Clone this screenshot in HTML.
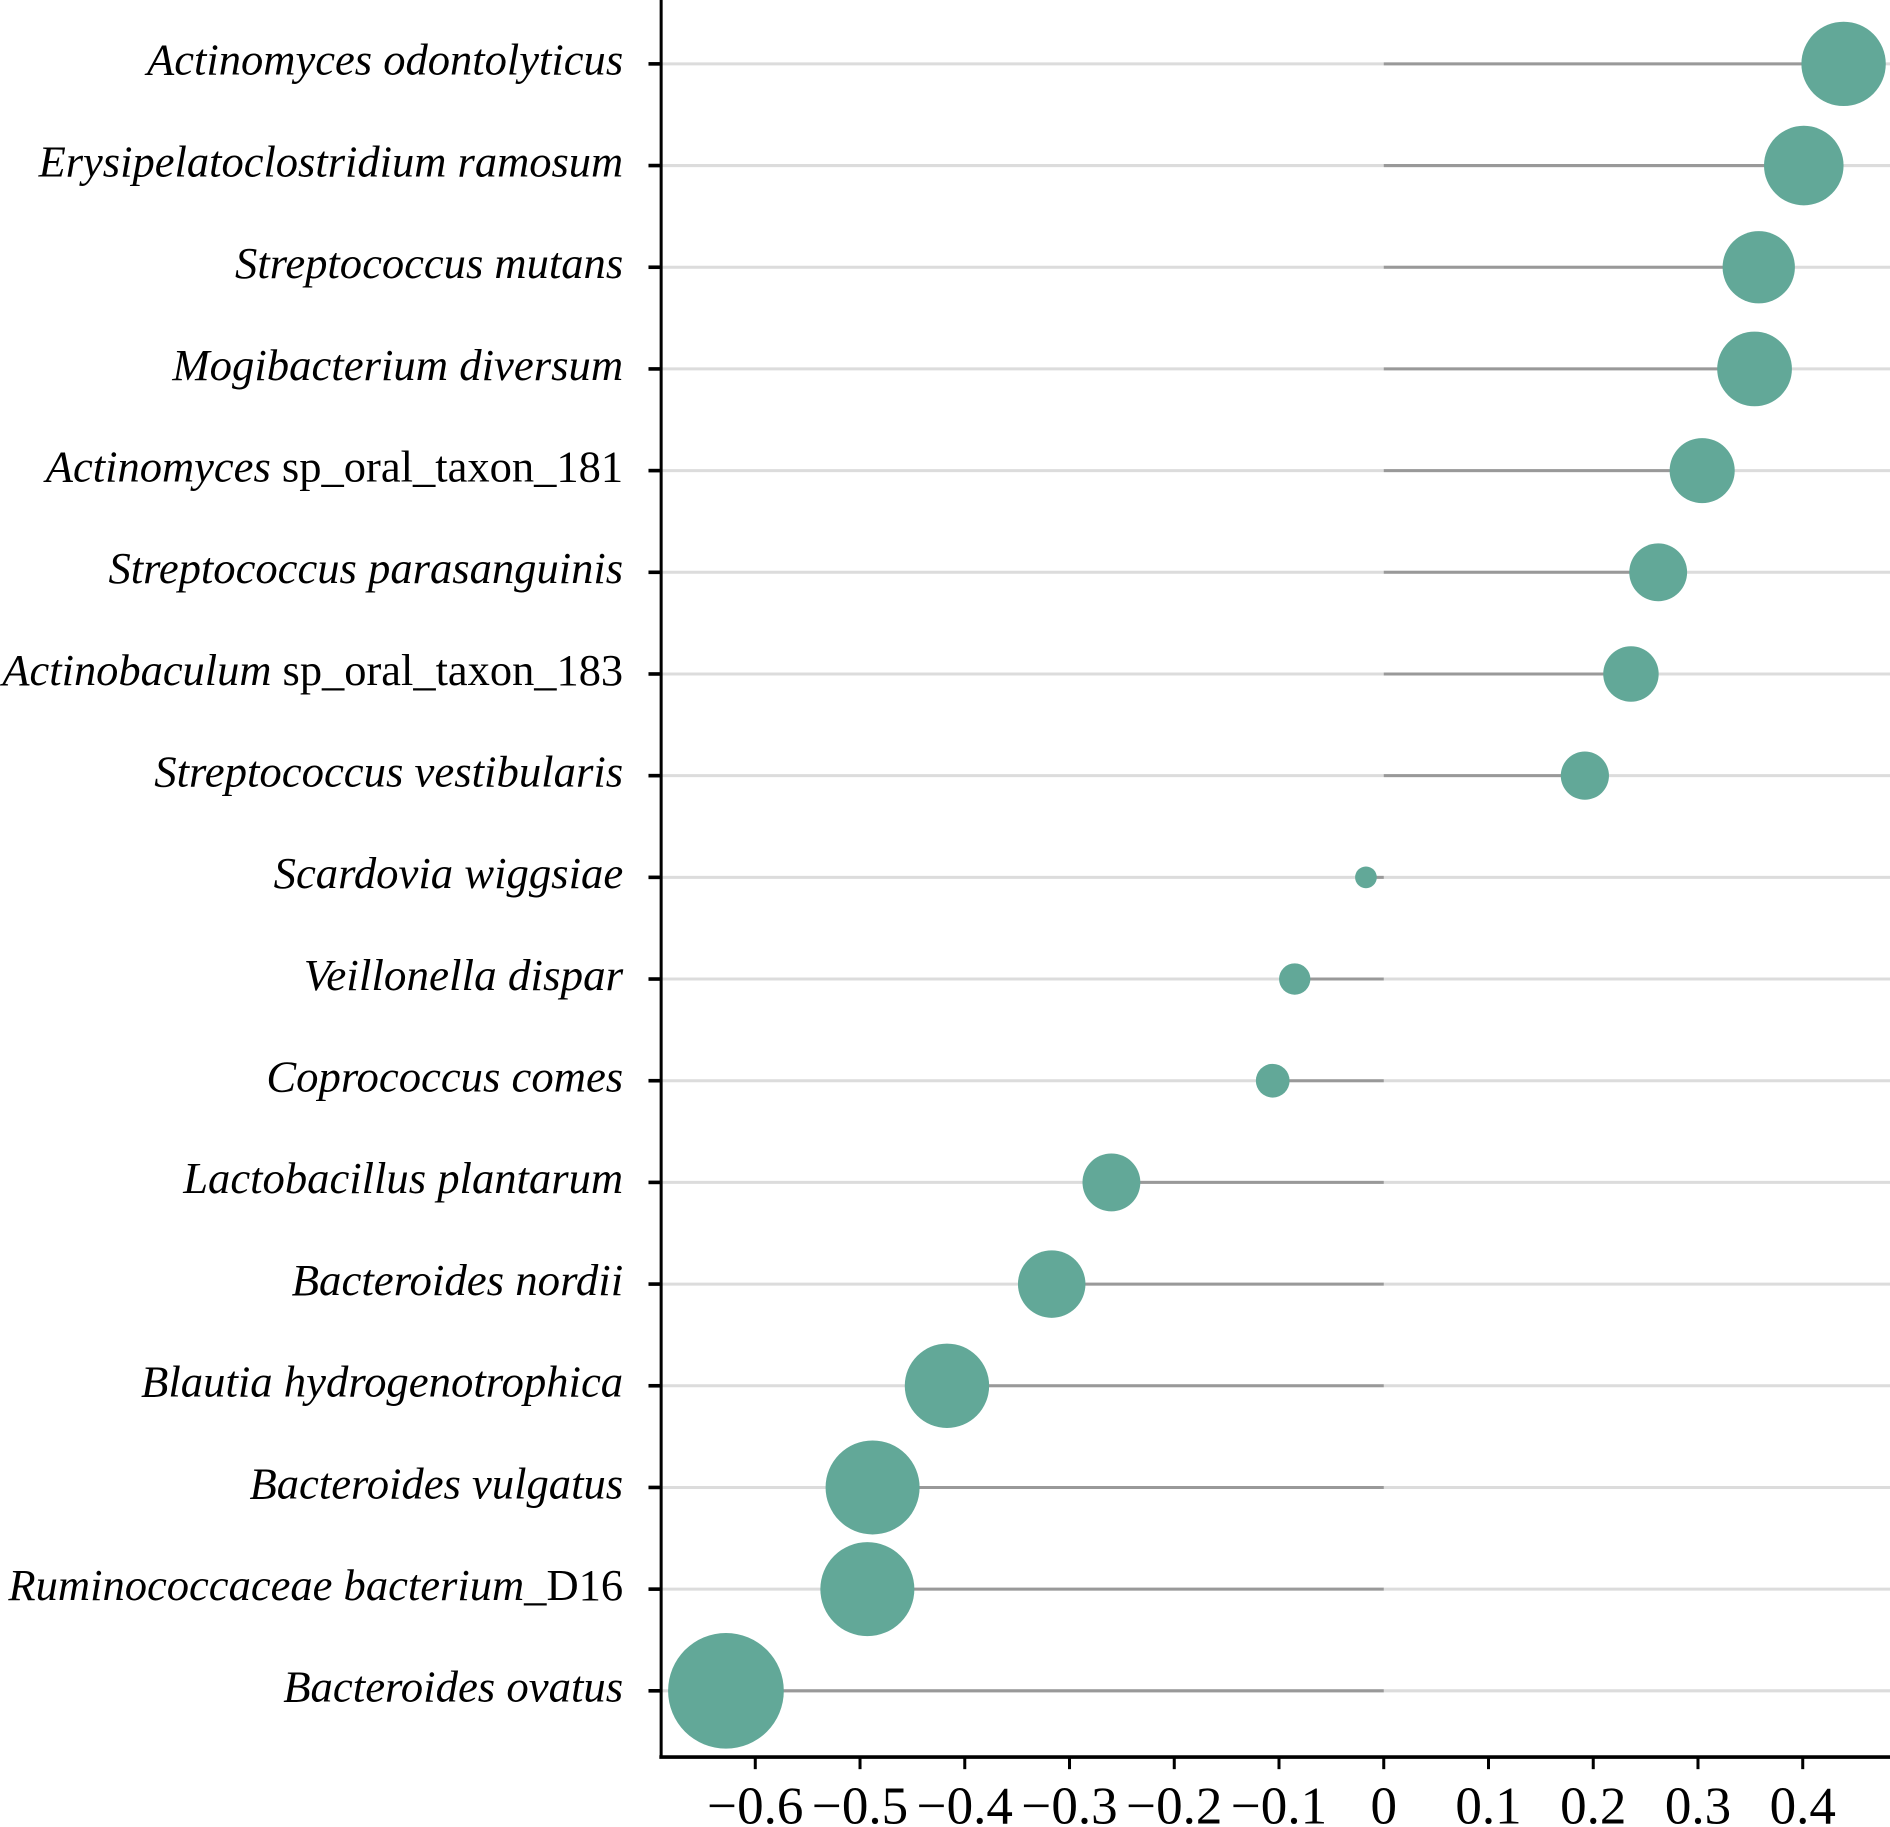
<!DOCTYPE html>
<html><head><meta charset="utf-8"><style>
html,body{margin:0;padding:0;background:#fff;}
svg{display:block;}
text{font-family:"Liberation Serif","DejaVu Serif",serif;fill:#000;}
</style></head><body>
<svg width="1890" height="1827" viewBox="0 0 1568 1516" preserveAspectRatio="none" xmlns="http://www.w3.org/2000/svg">
<g id="rows"></g>
<line x1="548.5" y1="0" x2="548.5" y2="1459" stroke="#000" stroke-width="2.5"/>
<line x1="547" y1="1458" x2="1568" y2="1458" stroke="#000" stroke-width="3"/>
<g id="xt"></g>
<script>
var data=[
["Actinomyces odontolyticus","",0.439,35],
["Erysipelatoclostridium ramosum","",0.401,33],
["Streptococcus mutans","",0.358,30],
["Mogibacterium diversum","",0.354,31],
["Actinomyces"," sp_oral_taxon_181",0.304,27],
["Streptococcus parasanguinis","",0.262,24],
["Actinobaculum"," sp_oral_taxon_183",0.236,23],
["Streptococcus vestibularis","",0.192,20],
["Scardovia wiggsiae","",-0.017,9],
["Veillonella dispar","",-0.085,13],
["Coprococcus comes","",-0.106,14],
["Lactobacillus plantarum","",-0.260,24],
["Bacteroides nordii","",-0.317,28],
["Blautia hydrogenotrophica","",-0.417,35],
["Bacteroides vulgatus","",-0.488,39],
["Ruminococcaceae bacterium","_D16",-0.493,39],
["Bacteroides ovatus","",-0.628,48]];
var lefts=[122,32,195,143,38,90,2,128,227,252,221,152,242,117,207,7,235];
var NS="http://www.w3.org/2000/svg";
var g=document.getElementById("rows");
var zero=1148, sc=869;
function el(n,a,p){var e=document.createElementNS(NS,n);for(var k in a)e.setAttribute(k,a[k]);(p||g).appendChild(e);return e;}
data.forEach(function(d,i){
 var y=53+i*84.375;
 var cx=zero+d[2]*sc;
 el("line",{x1:549,y1:y,x2:1568,y2:y,stroke:"#dcdcdc","stroke-width":2.5});
 el("line",{x1:zero,y1:y,x2:cx,y2:y,stroke:"#999","stroke-width":2.5});
 el("circle",{cx:cx,cy:y,r:d[3],fill:"#62a898"});
 el("line",{x1:538,y1:y,x2:548,y2:y,stroke:"#000","stroke-width":3});
 var t=el("text",{x:lefts[i],y:y+9,"font-size":37,textLength:517-lefts[i],lengthAdjust:"spacingAndGlyphs"});
 var s1=el("tspan",{"font-style":"italic"},t);s1.textContent=d[0];
 if(d[1]){var s2=el("tspan",{},t);s2.textContent=d[1];}
});
var xt=document.getElementById("xt");
var labs=["\u22120.6","\u22120.5","\u22120.4","\u22120.3","\u22120.2","\u22120.1","0","0.1","0.2","0.3","0.4"];
labs.forEach(function(l,k){
 var x=zero+(k-6)*86.9;
 el("line",{x1:x,y1:1459,x2:x,y2:1468,stroke:"#000","stroke-width":2.5},xt);
 var t=el("text",{x:x,y:1513,"font-size":44,"text-anchor":"middle"},xt);t.textContent=l;
});
</script>
</svg>
</body></html>
